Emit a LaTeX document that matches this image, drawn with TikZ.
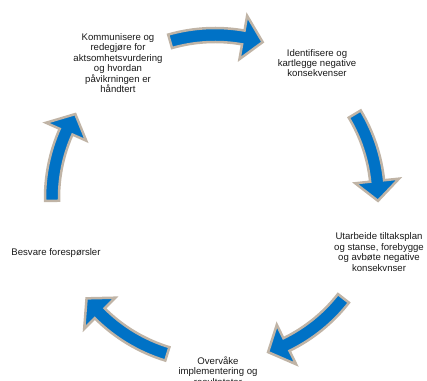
\documentclass[tikz,border=0pt]{standalone}
\usepackage{fontspec}
\setmainfont{Liberation Sans}
\definecolor{arrowblue}{RGB}{0,114,198}
\definecolor{arrowrim}{RGB}{192,180,166}
\definecolor{labeltext}{RGB}{25,25,25}
\tikzset{
  cyclearrow/.style={fill=arrowblue, draw=arrowrim, line width=2.5pt, line join=miter},
  steplabel/.style={align=center, text=labeltext, inner sep=0pt,
    font=\fontsize{9.6}{10.4}\selectfont}
}
\newcommand\blockarrow[2]{%
  \pgfmathsetmacro\headangle{#2+7}%
  \draw[cyclearrow] (#1:170) arc[start angle=#1, end angle=\headangle, radius=170]
    -- (\headangle:185) -- (#2:163) -- (\headangle:141) -- (\headangle:156)
    arc[start angle=\headangle, end angle=#1, radius=156] -- cycle;}
\begin{document}
\begin{tikzpicture}[x=1pt,y=1pt]
\useasboundingbox (0,0) rectangle (427,380);
\begin{scope}[shift={(215,182)}]
  \blockarrow{106}{73}
  \blockarrow{31}{-1}
  \blockarrow{-38}{-71}
  \blockarrow{-107}{-142}
  \blockarrow{181}{149}
\end{scope}
\node[steplabel] (kommunisere) at (118,317) {Kommunisere og\\redegjøre for\\aktsomhetsvurdering\\og hvordan\\påvikrningen er\\håndtert};
\node[steplabel] (identifisere) at (317,317) {Identifisere og\\kartlegge negative\\konsekvenser};
\node[steplabel] (utarbeide) at (379,128) {Utarbeide tiltaksplan\\og stanse, forebygge\\og avbøte negative\\konsekvnser};
\node[steplabel] (overvaake) at (218,9) {Overvåke\\implementering og\\resultateter};
\node[steplabel] (besvare) at (56,127) {Besvare forespørsler};
\end{tikzpicture}
\end{document}
